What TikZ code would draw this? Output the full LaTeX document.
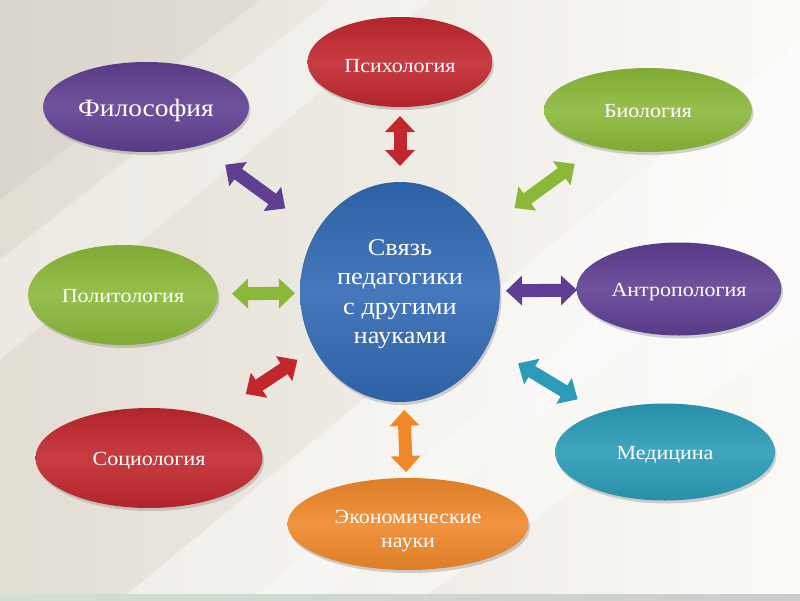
\documentclass[tikz,border=0pt]{standalone}
\usepackage{fontspec}
\setmainfont[FakeStretch=1.1]{Liberation Serif}
\usetikzlibrary{shapes.geometric,arrows.meta,calc,shadows}
\definecolor{cred}{HTML}{C1272D}
\definecolor{cpurp}{HTML}{5F3F91}
\definecolor{cgreen}{HTML}{8CB83A}
\definecolor{cblue}{HTML}{3169B3}
\definecolor{cteal}{HTML}{2B9CB8}
\definecolor{corange}{HTML}{F0882A}
\definecolor{bgA}{HTML}{E2DDD3}
\definecolor{bgB}{HTML}{FBFAF7}
\newcommand\dnx[2]{\raisebox{-#1}[\height][\depth]{#2}}
\tikzset{
  bub/.style={ellipse, inner sep=0pt, align=center, text=white,
    top color=#1!92!black, bottom color=#1!92!black, middle color=#1!90!white,
    drop shadow={opacity=0.35, shadow xshift=1.5pt, shadow yshift=-3pt}},
  lbl/.style={font=\fontsize{20}{24}\selectfont},
  link/.style={draw=#1, line width=13pt,
    {Triangle[width=29pt,length=16pt]}-{Triangle[width=29pt,length=16pt]}},
}
\begin{document}
\begin{tikzpicture}[x=1pt,y=-1pt]
\useasboundingbox (0,0) rectangle (800,600);
% background
\fill[left color=bgA, right color=bgB] (0,0) rectangle (800,600);
\fill[white, opacity=0.45] (120,600) -- (800,40) -- (800,330) -- (420,600) -- cycle;
\fill[white, opacity=0.35] (0,260) -- (330,0) -- (430,0) -- (0,360) -- cycle;
\fill[white, opacity=0.3] (250,600) -- (800,150) -- (800,200) -- (320,600) -- cycle;
\fill[bgA!70!gray, opacity=0.25] (0,0) -- (260,0) -- (0,200) -- cycle;
\fill[left color=green!20!gray!30, right color=gray!40] (0,594) rectangle (800,600);

% nodes
\node[bub=cblue, minimum width=200pt, minimum height=220pt,
      font=\fontsize{24}{29.5}\selectfont] (c) at (400,292)
      {\dnx{2pt}{Связь}\\\dnx{2pt}{педагогики}\\\dnx{2pt}{с другими}\\\dnx{2pt}{науками}};
\node[bub=cred, lbl, minimum width=185pt, minimum height=90pt] (psy) at (400,62) {\dnx{4pt}{Психология}};
\node[bub=cpurp, minimum width=206pt, minimum height=90pt,
      font=\fontsize{25}{30}\selectfont] (phil) at (146,107) {\dnx{3pt}{Философия}};
\node[bub=cgreen, lbl, minimum width=208pt, minimum height=84pt] (bio) at (648,110) {\dnx{1pt}{Биология}};
\node[bub=cgreen, lbl, minimum width=190pt, minimum height=100pt] (pol) at (123,295) {\dnx{1pt}{Политология}};
\node[bub=cpurp, lbl, minimum width=205pt, minimum height=93pt] (ant) at (679,289) {\dnx{3pt}{Антропология}};
\node[bub=cred, lbl, minimum width=227pt, minimum height=100pt] (soc) at (149,458) {\dnx{3pt}{Социология}};
\node[bub=cteal, lbl, minimum width=220pt, minimum height=97pt] (med) at (665,452) {\dnx{3pt}{Медицина}};
\node[bub=corange, lbl, minimum width=241pt, minimum height=92pt] (eco) at (408,524) {\dnx{7pt}{Экономические}\\\dnx{7pt}{науки}};

% connectors
\draw[link=cred]    ($(psy)!54pt!(c)$)  -- ($(c)!126pt!(psy)$);
\draw[link=cpurp]   ($(phil)!98pt!(c)$) -- ($(c)!142pt!(phil)$);
\draw[link=cgreen]  ($(bio)!91pt!(c)$)  -- ($(c)!142pt!(bio)$);
\draw[link=cgreen]  ($(pol)!109pt!(c)$) -- ($(c)!105pt!(pol)$);
\draw[link=cpurp]   ($(ant)!102pt!(c)$) -- ($(c)!106pt!(ant)$);
\draw[link=cred]    ($(soc)!116pt!(c)$) -- ($(c)!123pt!(soc)$);
\draw[link=cteal]   ($(med)!102pt!(c)$) -- ($(c)!138pt!(med)$);
\draw[link=corange] ($(eco)!52pt!(c)$)  -- ($(c)!118pt!(eco)$);
\end{tikzpicture}
\end{document}
